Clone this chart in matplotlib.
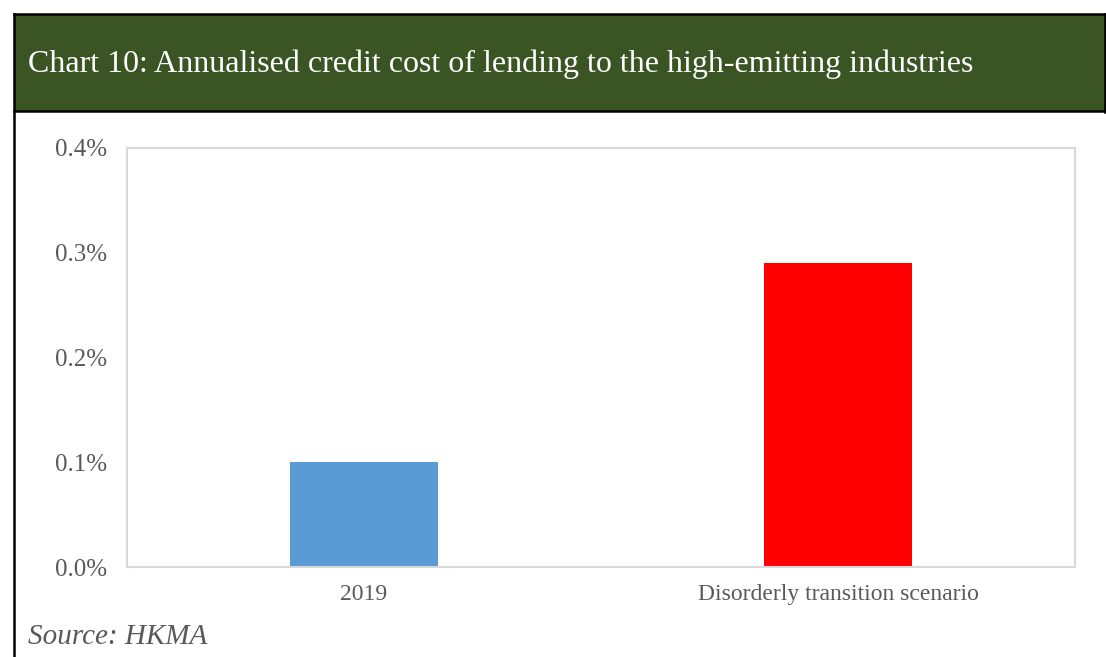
import matplotlib.pyplot as plt
from matplotlib.patches import Rectangle
from matplotlib.lines import Line2D
from matplotlib.ticker import FuncFormatter

# Datos del gráfico
categorias = ["2019", "Disorderly transition scenario"]
costo_credito = [0.10, 0.29]  # en %
colores = ["#5b9bd5", "#ff0000"]
titulo = "Chart 10: Annualised credit cost of lending to the high-emitting industries"
fuente = "Source: HKMA"

W, H = 1106, 657
plt.rcParams['font.family'] = ['Liberation Serif', 'DejaVu Serif']

fig = plt.figure(figsize=(W / 100, H / 100), dpi=100)


def fx(px):
    return px / W


def fy(py):
    return 1 - py / H


# Banda verde del título
fig.patches.append(Rectangle((fx(14), fy(111)), fx(1105) - fx(14), fy(14) - fy(111),
                             transform=fig.transFigure, facecolor="#3a5424",
                             edgecolor="none", zorder=0))
fig.text(fx(28), fy(64), titulo, color="white", fontsize=23, va="center", ha="left")

# Bordes negros
for xs, ys in [((14, 1105), (14, 14)), ((14, 1105), (111, 111)),
               ((14, 14), (14, 657)), ((1105, 1105), (14, 112))]:
    fig.lines.append(Line2D([fx(xs[0]), fx(xs[1])], [fy(ys[0]), fy(ys[1])],
                            transform=fig.transFigure, color="black", lw=1.8))

# Área del gráfico
ax = fig.add_axes([fx(127), fy(567), fx(1075) - fx(127), fy(148) - fy(567)])
ax.bar(range(len(categorias)), costo_credito, width=0.314, color=colores)
ax.set_xlim(-0.5, 1.5)
ax.set_ylim(0, 0.4)
ax.set_yticks([0.0, 0.1, 0.2, 0.3, 0.4])
ax.yaxis.set_major_formatter(FuncFormatter(lambda v, p: f"{v:.1f}%"))
ax.set_xticks(range(len(categorias)))
ax.set_xticklabels(categorias)
ax.tick_params(length=0, labelsize=18, labelcolor="#595959")
ax.tick_params(axis="x", labelsize=17, pad=12)
ax.tick_params(axis="y", pad=14)
for s in ax.spines.values():
    s.set_color("#d9d9d9")
    s.set_linewidth(1.5)

fig.text(fx(28), fy(637), fuente, color="#595959", fontsize=21, style="italic",
         va="center", ha="left")

fig.savefig("out.png", dpi=100)
